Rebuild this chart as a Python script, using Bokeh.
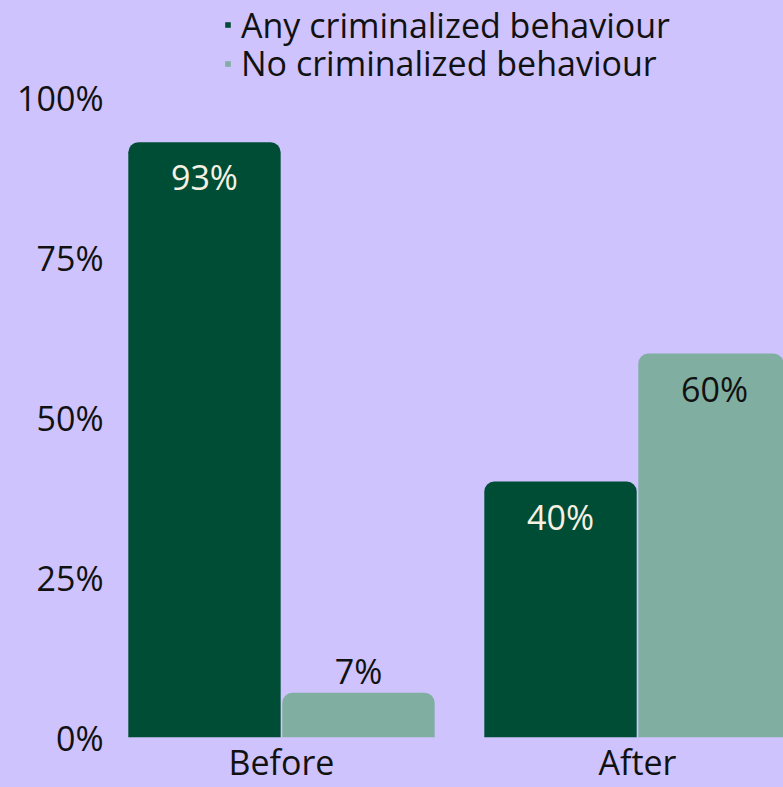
from bokeh.plotting import figure
from bokeh.models import ColumnDataSource, Range1d, FixedTicker, Legend, LegendItem
from bokeh.core.properties import value
from bokeh.embed import file_html
from bokeh.resources import INLINE

# ---- data ----
categories = ["Before", "After"]
series_names = ["Any criminalized behaviour", "No criminalized behaviour"]
any_crim = [93, 40]
no_crim = [7, 60]
y_ticks = [0, 25, 50, 75, 100]
y_tick_labels = ["0%", "25%", "50%", "75%", "100%"]

# ---- style ----
BG = "#CEC3FD"
DARK = "#004D36"
LIGHT = "#80AFA1"
CREAM = "#F6F1E3"
INK = "#111111"
FONT = "Open Sans"
FS = "34px"

W, H = 783, 787
FB = 737          # frame bottom (px from top)
TOP100 = 97       # pixel row of 100%
k = (FB - TOP100) / 100.0
p = figure(width=W, height=H, output_backend="svg", toolbar_location=None,
           x_range=Range1d(-0.4522, 1.4101), y_range=Range1d(0, FB / k),
           min_border_left=120, min_border_right=0, min_border_top=0, min_border_bottom=H - FB,
           styles={"background-color": BG})
p.border_fill_color = BG
p.background_fill_color = BG
p.outline_line_color = None
p.grid.visible = False

xs = list(range(len(categories)))
off = 0.2163
bw = 0.428
src_a = ColumnDataSource(dict(x=[x - off for x in xs], top=any_crim))
src_b = ColumnDataSource(dict(x=[x + off for x in xs], top=no_crim))
ra = p.vbar(x="x", top="top", width=bw, source=src_a, fill_color=DARK, line_color=None,
            border_radius=(10, 10, 0, 0))
rb = p.vbar(x="x", top="top", width=bw, source=src_b, fill_color=LIGHT, line_color=None,
            border_radius=(10, 10, 0, 0))

inside = 35 / k
outside = 22 / k

def label_src(xpos, vals):
    ys = [v - inside if v >= 20 else v + outside for v in vals]
    return ColumnDataSource(dict(x=xpos, y=ys, t=[f"{v}%" for v in vals]))

la = label_src([x - off for x in xs], any_crim)
lb = label_src([x + off for x in xs], no_crim)
p.text(x="x", y="y", text="t", source=la, text_align="center", text_baseline="middle",
       text_font=value(FONT), text_font_size=FS, text_color=CREAM)
p.text(x="x", y="y", text="t", source=lb, text_align="center", text_baseline="middle",
       text_font=value(FONT), text_font_size=FS, text_color=INK)

# axes
p.yaxis.ticker = FixedTicker(ticks=y_ticks)
p.yaxis.major_label_overrides = {t: l for t, l in zip(y_ticks, y_tick_labels)}
p.xaxis.ticker = FixedTicker(ticks=xs)
p.xaxis.major_label_overrides = {x: c for x, c in zip(xs, categories)}
for ax in (p.xaxis, p.yaxis):
    ax.axis_line_color = None
    ax.major_tick_line_color = None
    ax.minor_tick_line_color = None
    ax.major_tick_out = 0
    ax.major_tick_in = 0
    ax.minor_tick_out = 0
    ax.major_label_text_font = FONT
    ax.major_label_text_font_size = FS
    ax.major_label_text_color = INK
p.yaxis.major_label_standoff = 17
p.xaxis.major_label_standoff = 1

# one legend per series so each row can sit at its own height
ITEM_H = 46
row_centers = [24.5, 63]
for rend, name, rc in zip([ra, rb], series_names, row_centers):
    lg = Legend(items=[LegendItem(label=name, renderers=[rend])],
                location=(104, FB - (rc + ITEM_H / 2)), orientation="vertical")
    lg.background_fill_alpha = 0
    lg.border_line_alpha = 0
    lg.padding = 0
    lg.margin = 0
    lg.spacing = 0
    lg.glyph_width = 7
    lg.glyph_height = 7
    lg.label_standoff = 10
    lg.label_text_font = FONT
    lg.label_text_font_size = FS
    lg.label_text_color = INK
    p.add_layout(lg)

open("out.html", "w").write(file_html(p, INLINE))
